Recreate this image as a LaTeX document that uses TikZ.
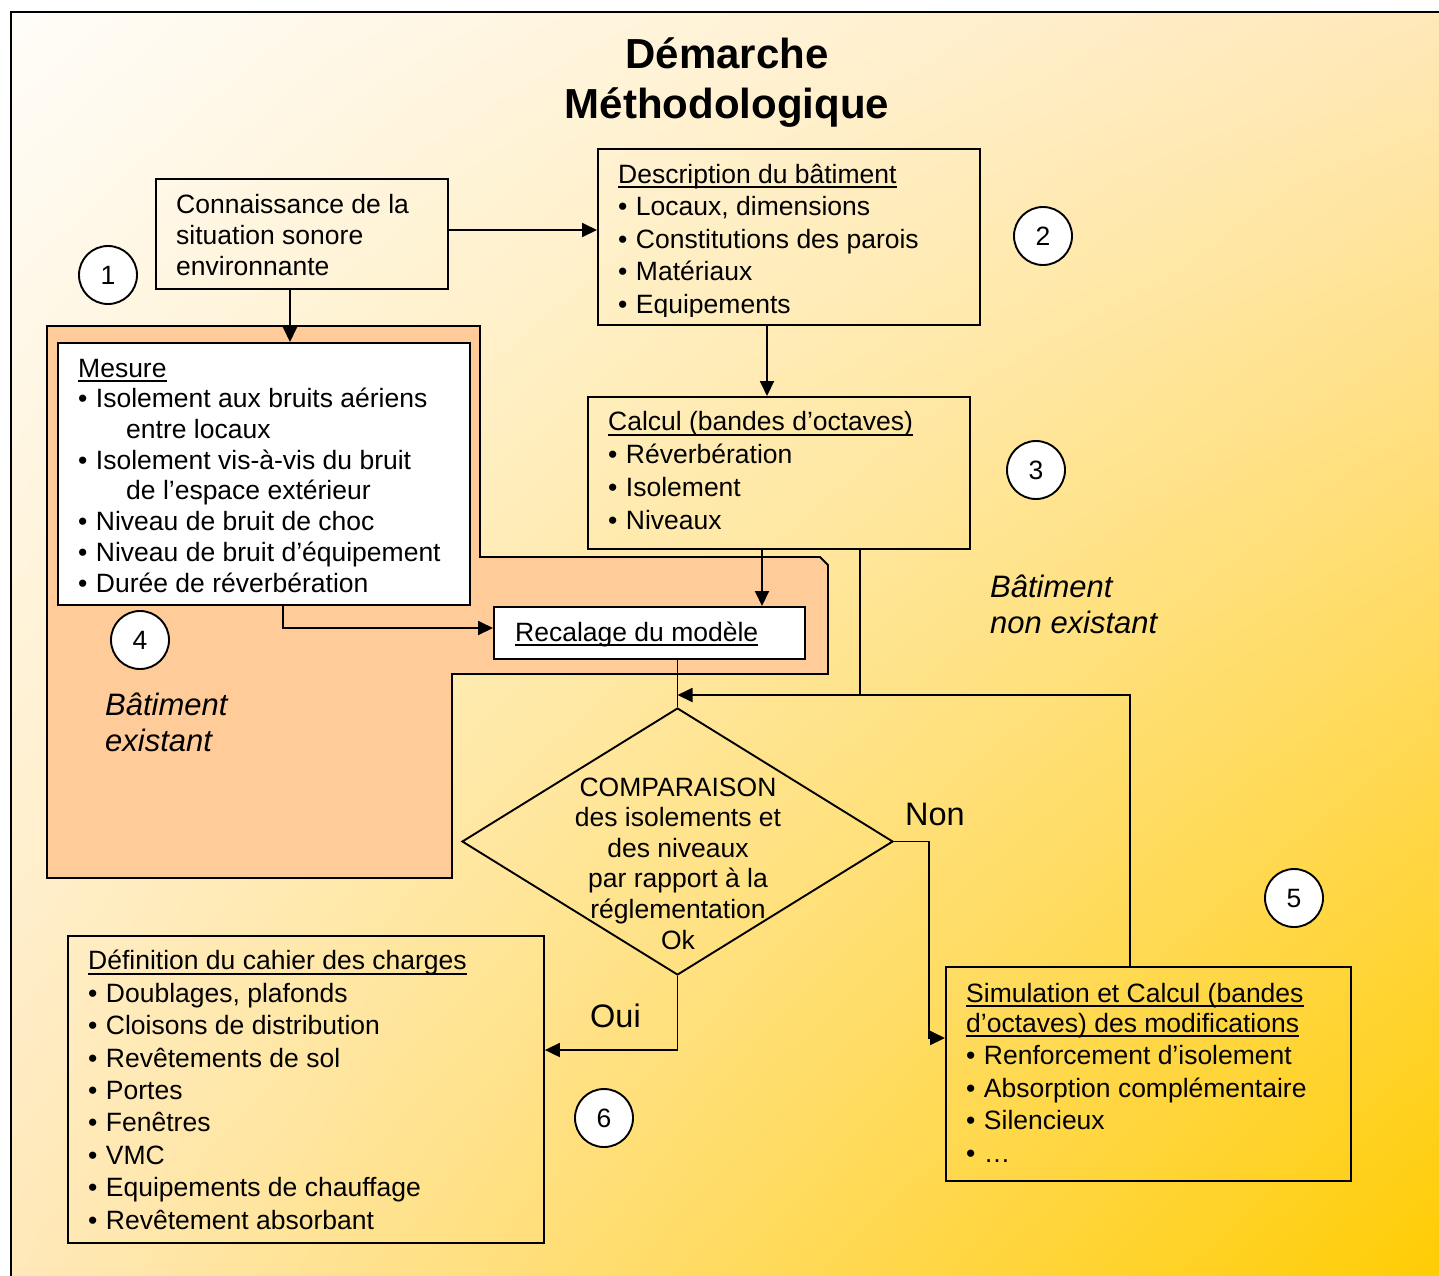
\documentclass[tikz,border=0pt]{standalone}
\usepackage{fontspec}
\setmainfont{Liberation Sans}
\usetikzlibrary{shapes.geometric,arrows.meta,shadings}
\definecolor{peach}{HTML}{FFCC99}
\definecolor{bgA}{HTML}{FFFDF8}
\definecolor{bgM}{HTML}{FFE8B9}
\definecolor{bgY}{HTML}{FFCC00}
\newsavebox\myulbox
\newcommand\myul[1]{\sbox\myulbox{#1}\rlap{\rule[-5pt]{\wd\myulbox}{1.9pt}}\usebox\myulbox}
\newcommand\bul{•\hspace{8.5pt}}
\begin{document}
\begin{tikzpicture}[x=1pt,y=-1pt,
  box/.style={draw,line width=1.9pt,rectangle,inner sep=0pt,anchor=north west},
  txt/.style={anchor=base west,align=left,inner sep=0pt},
  lab/.style={anchor=base west,align=left,inner sep=0pt,font=\itshape\fontsize{31}{36.5}\selectfont},
  circ/.style={circle,draw,fill=white,line width=1.9pt,minimum size=58pt,inner sep=0pt,font=\fontsize{26.5}{30}\selectfont},
  arr/.style={line width=1.9pt,-{Triangle[length=15pt,width=14pt]}},
  conline/.style={line width=1.9pt}]
\useasboundingbox (0,0) rectangle (1439,1275);
% background
\shade[upper left=bgA, upper right=bgM, lower left=bgM, lower right=bgY] (11,12) rectangle (1450,1290);
\draw[line width=1.9pt] (1450,12) -- (11,12) -- (11,1290);
% orange region
\draw[fill=peach,line width=1.9pt] (47,326) -- (480,326) -- (480,557) -- (820,557) -- (828,565) -- (828,674) -- (452,674) -- (452,878) -- (47,878) -- cycle;
% title (anchor = baseline of last line)
\node[align=center,anchor=base,inner sep=0pt,font=\bfseries\fontsize{42}{50}\selectfont] (title) at (727,118) {Démarche\\Méthodologique};
% boxes
\node[box,minimum width=292pt,minimum height=110pt] (conn) at (155,178) {};
\node[box,minimum width=382pt,minimum height=176pt] (desc) at (597,148) {};
\node[box,fill=white,minimum width=412pt,minimum height=262pt] (mes) at (57,342) {};
\node[box,minimum width=382pt,minimum height=152pt] (calc) at (587,396) {};
\node[box,fill=white,minimum width=311pt,minimum height=52pt] (rec) at (493,606) {};
\node[box,minimum width=476pt,minimum height=307pt] (def) at (67,935) {};
\node[box,minimum width=405pt,minimum height=214pt] (sim) at (945,966) {};
\node[draw,diamond,line width=1.9pt,minimum width=431pt,minimum height=267pt,inner sep=0pt] (dia) at (677.5,841.5) {};
% texts (anchor = baseline of last line)
\node[txt,font=\fontsize{26.5}{31}\selectfont] (conntxt) at (176,275) {Connaissance de la\\situation sonore\\environnante};
\begin{scope}
\clip (597,148) rectangle (979,316);
\node[txt,font=\fontsize{26.5}{32.5}\selectfont] (desctxt) at (618,313) {\myul{Description du bâtiment}\\\bul Locaux, dimensions\\\bul Constitutions des parois\\\bul Matériaux\\\bul Equipements};
\end{scope}
\node[txt,font=\fontsize{26.5}{30.7}\selectfont] (mestxt) at (78,592) {\myul{Mesure}\\\bul Isolement aux bruits aériens\\\hspace*{48pt}entre locaux\\\bul Isolement vis-à-vis du bruit\\\hspace*{48pt}de l’espace extérieur\\\bul Niveau de bruit de choc\\\bul Niveau de bruit d’équipement\\\bul Durée de réverbération};
\node[txt,font=\fontsize{26.5}{32.7}\selectfont] (calctxt) at (608,529) {\myul{Calcul (bandes d’octaves)}\\\bul Réverbération\\\bul Isolement\\\bul Niveaux};
\node[txt,font=\fontsize{26.5}{31}\selectfont] (rectxt) at (515,641) {\myul{Recalage du modèle}};
\node[txt,font=\fontsize{26.5}{32.4}\selectfont] (deftxt) at (88,1229) {\myul{Définition du cahier des charges}\\\bul Doublages, plafonds\\\bul Cloisons de distribution\\\bul Revêtements de sol\\\bul Portes\\\bul Fenêtres\\\bul VMC\\\bul Equipements de chauffage\\\bul Revêtement absorbant};
\node[txt,font=\fontsize{26.5}{32.6}\selectfont] (simtxt) at (966,1162.5) {\myul{Simulation et Calcul (bandes}\\[-2.6pt]\myul{d’octaves) des modifications}\\\bul Renforcement d’isolement\\\bul Absorption complémentaire\\\bul Silencieux\\\bul …};
\node[align=center,anchor=base,inner sep=0pt,font=\fontsize{26.5}{30.6}\selectfont] (diatxt) at (678,949) {COMPARAISON\\des isolements et\\des niveaux\\par rapport à la\\réglementation\\Ok};
\node[lab] (bex) at (105,751.5) {Bâtiment\\existant};
\node[lab] (bnex) at (990,633.5) {Bâtiment\\non existant};
\node[txt,font=\fontsize{32.5}{36}\selectfont] (non) at (905,825) {Non};
\node[txt,font=\fontsize{32.5}{36}\selectfont] (oui) at (590,1027) {Oui};
% connectors
\coordinate (y230) at (0,230);
\draw[arr] (conn.east |- y230) -- (desc.west |- y230);
\coordinate (x290) at (290,0);
\draw[arr] (conn.south -| x290) -- (mes.north -| x290);
\coordinate (x767) at (767,0);
\draw[arr] (desc.south -| x767) -- (calc.north -| x767);
\coordinate (x762) at (762,0);
\draw[arr] (calc.south -| x762) -- (rec.north -| x762);
\coordinate (x283) at (283,0);
\coordinate (y628) at (0,628);
\draw[arr] (mes.south -| x283) |- (rec.west |- y628);
\draw[conline] (rec.south -| dia.north) -- (dia.north);
\coordinate (x860) at (860,0);
\coordinate (y695) at (0,695);
\draw[arr] (calc.south -| x860) |- (dia.north |- y695);
\coordinate (x1130) at (1130,0);
\draw[conline] (sim.north -| x1130) |- (x860 |- y695);
\coordinate (x929) at (929,0);
\coordinate (y1038) at (0,1038);
\draw[arr] (dia.east) -| (x929 |- y1038) -- (sim.west |- y1038);
\coordinate (y1050) at (0,1050);
\draw[arr] (dia.south) |- (def.east |- y1050);
% circles
\node[circ] (c1) at (108,275) {1};
\node[circ] (c2) at (1043,236) {2};
\node[circ] (c3) at (1036,470) {3};
\node[circ] (c4) at (140,640) {4};
\node[circ] (c5) at (1294,898) {5};
\node[circ] (c6) at (604,1118) {6};
\end{tikzpicture}
\end{document}
